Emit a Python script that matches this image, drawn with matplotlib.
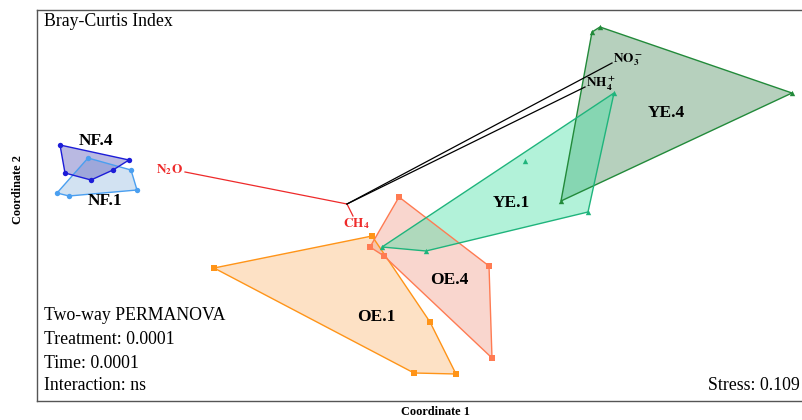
import matplotlib
matplotlib.use("Agg")
import matplotlib.pyplot as plt
from matplotlib.patches import Polygon

plt.rcParams['font.family'] = ['Liberation Serif', 'DejaVu Serif']
plt.rcParams['mathtext.fontset'] = 'stix'

# NMDS site scores (hull vertices per group)
nf4_x = [-1.440, -1.164, -1.228, -1.316, -1.420]
nf4_y = [0.260, 0.200, 0.160, 0.120, 0.148]
nf1_x = [-1.328, -1.156, -1.132, -1.404, -1.452]
nf1_y = [0.208, 0.160, 0.080, 0.056, 0.068]
oe1_x = [-0.824, -0.192, 0.040, 0.144, -0.024]
oe1_y = [-0.232, -0.104, -0.448, -0.656, -0.652]
oe4_x = [-0.084, 0.276, 0.288, -0.144, -0.200]
oe4_y = [0.052, -0.224, -0.592, -0.184, -0.148]
ye1_x = [-0.152, 0.776, 0.672, 0.024]
ye1_y = [-0.148, 0.468, -0.008, -0.164]
ye1_inner_x = [0.420]
ye1_inner_y = [0.196]
ye4_x = [0.564, 0.688, 0.720, 1.488]
ye4_y = [0.036, 0.712, 0.732, 0.468]

# environmental vectors
vec_origin = (-0.292, 0.024)
vec_names = ['N2O', 'CH4', 'NO3', 'NH4']
vec_x = [-0.940, -0.268, 0.768, 0.660]
vec_y = [0.152, -0.024, 0.588, 0.492]

groups = [
    ('NF.1', nf1_x, nf1_y, '#4a9ff0', '#8fb8e0', 'o', (-1.260, 0.036)),
    ('NF.4', nf4_x, nf4_y, '#1c1cd8', '#5050b8', 'o', (-1.296, 0.276)),
    ('OE.1', oe1_x, oe1_y, '#ff9418', '#fbb46e', 's', (-0.176, -0.428)),
    ('OE.4', oe4_x, oe4_y, '#ff7b52', '#f09a85', 's', (0.116, -0.280)),
    ('YE.4', ye4_x, ye4_y, '#228a3a', '#4a8a5c', '^', (0.984, 0.388)),
    ('YE.1', ye1_x, ye1_y, '#1fb47c', '#40e0a2', '^', (0.364, 0.028)),
]

fig = plt.figure(figsize=(8.03, 4.2), dpi=100)
ax = fig.add_axes([37 / 803, 1 - 401 / 420, 775 / 803, 391.5 / 420])
ax.set_xlim(-1.532, 1.568)
ax.set_ylim(-0.764, 0.802)
ax.set_xticks([])
ax.set_yticks([])
for s in ax.spines.values():
    s.set_color('#555555')
    s.set_linewidth(1.0)

for name, gx, gy, ec, fc, mk, lab in groups:
    poly = Polygon(list(zip(gx, gy)), closed=True, facecolor=fc, alpha=0.4,
                   edgecolor='none', zorder=2)
    ax.add_patch(poly)
    edge = Polygon(list(zip(gx, gy)), closed=True, facecolor='none',
                   edgecolor=ec, linewidth=1.0, zorder=3)
    ax.add_patch(edge)
    ax.scatter(gx, gy, marker=mk, s=15, color=ec, zorder=4, linewidths=0)
    ax.text(lab[0], lab[1], name, fontsize=12.5, fontweight='bold',
            ha='center', va='center', zorder=5)

ax.scatter(ye1_inner_x, ye1_inner_y, marker='^', s=15, color='#1fb47c', zorder=4, linewidths=0)

# arrows of the fitted variables
vec_colors = ['#ee2a2a', '#ee2a2a', 'black', 'black']
for nm, vx, vy, c in zip(vec_names, vec_x, vec_y, vec_colors):
    ax.plot([vec_origin[0], vx], [vec_origin[1], vy], color=c, lw=0.9, zorder=6)

ax.text(vec_x[0] - 0.01, vec_y[0] + 0.008, r'$\mathbf{N_2O}$', color='#ee2a2a',
        fontsize=9.5, ha='right', va='center', zorder=7)
ax.text(vec_x[1] + 0.012, vec_y[1] - 0.03, r'$\mathbf{CH_4}$', color='#ee2a2a',
        fontsize=9.5, ha='center', va='center', zorder=7)
ax.text(vec_x[2] + 0.006, vec_y[2] + 0.012, r'$\mathbf{NO_3^-}$', color='black',
        fontsize=9.5, ha='left', va='center', zorder=7)
ax.text(vec_x[3] + 0.006, vec_y[3] + 0.012, r'$\mathbf{NH_4^+}$', color='black',
        fontsize=9.5, ha='left', va='center', zorder=7)

ax.text(7 / 775, 1 - 12.5 / 391.5, 'Bray-Curtis Index', transform=ax.transAxes,
        fontsize=12.8, ha='left', va='center')

stats = ['Two-way PERMANOVA', 'Treatment: 0.0001', 'Time: 0.0001', 'Interaction: ns']
stats_y = [316, 339, 363, 386]
for txt, py in zip(stats, stats_y):
    ax.text(7 / 775, (401 - py) / 391.5, txt, transform=ax.transAxes,
            fontsize=12.8, ha='left', va='center')

# right-aligned so it stays inside the saved image
ax.text((800 - 37) / 775, (401 - 386) / 391.5, 'Stress: 0.109', transform=ax.transAxes,
        fontsize=12.8, ha='right', va='center')

fig.text(435 / 803, 1 - 412 / 420, 'Coordinate 1', fontsize=8.8, fontweight='bold',
         ha='center', va='center')
fig.text(18 / 803, 1 - 190 / 420, 'Coordinate 2', fontsize=8.8, fontweight='bold',
         ha='center', va='center', rotation=90)

fig.savefig('out.png', dpi=100)
